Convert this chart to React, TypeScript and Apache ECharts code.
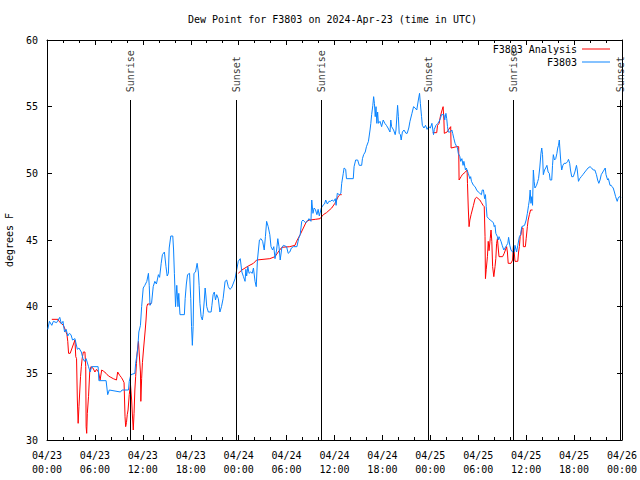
import React, { useEffect, useRef } from "react";
import * as echarts from "echarts";

// hours since 2024-04-23 00:00 UTC
const obsHours = [0.1,0.3,0.6,0.8,1.2,1.6,1.8,2.0,2.2,2.4,2.6,2.8,3.0,3.2,3.5,3.8,4.0,4.3,4.5,4.7,4.9,5.2,5.4,5.6,6.4,6.5,7.4,7.6,7.8,9.2,9.4,10.2,10.3,10.5,11.0,11.1,11.35,11.5,11.7,11.85,12.05,12.25,12.5,12.7,12.8,12.9,13.1,13.3,13.5,13.7,13.95,14.1,14.3,14.45,14.7,14.9,15.05,15.2,15.3,15.5,15.75,15.85,15.95,16.1,16.25,16.4,16.5,16.65,17.2,17.3,17.45,17.6,17.85,18.0,18.1,18.2,18.3,18.4,18.6,18.8,18.95,19.05,19.15,19.3,19.45,19.55,19.7,19.8,19.9,20.0,20.2,20.55,20.65,20.8,20.95,21.1,21.25,21.45,21.65,21.85,22.05,22.3,22.5,22.7,22.9,23.1,23.3,23.55,23.75,23.95,24.2,24.4,24.6,24.8,24.9,25.0,25.15,25.3,25.5,25.7,25.85,26.05,26.2,26.35,26.6,26.8,27.0,27.2,27.35,27.5,27.7,27.9,28.05,28.25,28.4,28.55,28.75,28.9,29.05,29.2,29.4,29.6,30.0,30.2,30.4,30.6,30.85,31.3,31.5,31.7,31.9,32.05,32.2,32.4,32.6,32.8,33.05,33.15,33.3,33.45,33.6,33.8,33.95,34.1,34.35,34.55,34.75,34.9,35.1,35.3,35.5,35.7,35.9,36.1,36.2,36.35,36.6,36.8,36.9,37.1,37.2,37.4,37.5,38.35,38.45,38.65,38.9,39.1,39.4,39.5,39.65,39.85,40.0,40.25,40.45,40.55,40.65,40.8,40.9,41.0,41.1,41.2,41.3,41.4,41.5,41.7,41.9,42.1,42.3,42.5,42.7,42.95,43.05,43.15,43.4,43.6,43.7,43.9,44.0,44.1,44.25,44.35,44.5,44.7,44.95,45.1,45.3,45.45,45.7,45.9,46.1,46.3,46.5,46.65,46.75,46.9,47.0,47.2,47.4,47.6,47.8,48.0,48.2,48.4,48.5,48.7,48.95,49.1,49.25,49.4,49.7,49.8,49.95,50.05,50.15,50.25,50.5,50.7,50.8,50.95,51.1,51.3,51.4,51.5,51.7,51.8,51.95,52.1,52.2,52.4,52.5,52.75,52.95,53.05,53.15,53.4,53.6,53.8,54.0,54.2,54.4,54.5,54.65,54.8,54.9,55.0,55.1,55.3,55.5,55.7,55.9,56.0,56.1,56.2,56.4,56.5,56.6,56.7,56.85,57.0,57.2,57.35,57.55,57.7,57.8,57.95,58.1,58.3,58.5,58.6,58.8,58.95,59.15,59.3,59.45,59.8,60.0,60.15,60.3,60.4,60.5,60.6,60.7,60.8,60.9,61.0,61.1,61.3,61.45,61.55,61.7,61.85,61.95,62.05,62.15,62.3,62.45,62.6,62.75,62.9,63.0,63.2,63.3,63.4,63.55,63.7,63.85,63.95,64.05,64.15,64.25,64.35,64.45,64.6,64.75,65.0,65.2,65.3,65.45,65.55,65.7,65.9,66.1,66.3,66.4,66.55,66.7,66.9,67.1,67.35,67.55,67.75,68.0,68.2,68.4,68.6,68.8,68.95,69.1,69.25,69.4,69.6,69.9,70.0,70.2,70.3,70.5,70.65,70.75,70.9,71.05,71.2,71.4,71.5,71.65,71.9];
const obsValues = [38.3,38.9,38.6,38.9,38.8,39.2,38.7,38.9,38.1,38.3,37.8,38.0,37.9,37.5,37.6,36.8,36.9,36.6,36.1,35.9,36.1,35.5,35.1,35.5,35.5,34.45,34.45,33.4,33.75,33.6,33.75,33.75,34.4,34.9,35.0,35.75,36.75,38.1,38.6,40.0,41.4,41.6,41.9,42.5,41.6,40.1,40.3,41.5,41.9,41.7,42.4,42.2,43.25,43.9,44.1,43.0,42.3,42.5,44.4,45.3,45.3,44.25,42.5,40.0,41.6,40.0,41.0,39.4,39.4,40.6,41.7,42.4,42.5,40.6,38.5,37.1,38.5,42.5,42.6,43.25,42.6,41.6,40.25,39.25,39.0,39.4,40.5,41.4,40.8,40.0,39.6,39.6,40.1,40.9,41.1,40.5,40.9,40.6,39.6,40.0,40.6,41.9,42.0,41.5,41.3,41.4,41.7,42.1,42.75,43.4,43.6,42.6,42.25,41.9,42.8,42.3,43.0,42.5,42.6,42.5,42.9,41.9,41.5,43.5,45.0,45.1,44.9,44.25,45.25,46.4,46.0,45.4,44.5,44.25,44.5,43.6,44.25,45.1,44.5,43.5,44.4,44.6,44.5,44.0,44.1,44.4,44.5,44.5,45.1,45.4,46.4,46.5,46.4,46.3,46.4,46.6,46.4,48.0,47.0,47.4,47.3,46.9,47.3,46.8,47.4,47.6,47.7,48.0,47.7,47.9,47.9,48.0,47.9,48.1,47.6,48.5,48.4,48.5,49.25,50.0,50.4,50.3,49.6,49.6,50.5,51.0,51.0,50.6,50.6,51.1,51.4,51.6,52.0,52.4,53.25,53.75,54.4,55.1,55.75,55.25,54.25,55.0,53.75,54.6,53.75,53.9,53.5,54.0,53.75,53.6,53.4,53.1,54.0,53.5,53.25,52.9,53.25,55.1,54.25,53.0,52.9,52.5,53.1,53.25,53.0,53.0,53.4,53.9,54.5,55.0,54.9,54.75,55.5,56.0,55.25,54.25,53.6,53.4,53.6,53.3,53.5,53.4,53.75,52.9,53.3,53.6,53.75,53.9,54.1,54.4,54.4,54.0,54.5,54.1,53.5,53.1,53.1,53.25,53.0,52.6,52.25,52.0,51.9,51.5,51.25,50.9,51.1,50.6,50.9,50.25,50.4,50.0,49.6,49.75,49.4,49.1,49.0,48.75,48.6,48.5,48.4,48.75,48.75,48.1,48.4,47.5,46.75,46.6,46.5,46.4,46.3,46.0,46.1,45.5,45.25,45.0,45.25,45.1,44.9,44.6,44.25,44.4,44.6,44.75,45.2,44.6,44.25,44.1,44.1,44.6,44.1,44.6,45.25,45.4,46.0,46.1,46.5,47.0,47.6,48.0,48.75,47.75,48.25,47.6,50.25,49.4,48.9,49.1,49.4,49.6,50.4,51.5,51.9,51.4,49.9,50.25,50.4,50.6,50.1,50.0,49.5,49.5,50.6,51.4,51.0,51.1,51.5,51.9,52.1,52.5,51.6,50.75,50.25,50.6,50.75,50.75,50.9,51.05,50.75,50.25,49.75,49.75,50.1,50.6,50.25,49.4,49.6,49.75,49.9,50.1,50.25,50.4,50.5,50.4,50.25,50.25,49.9,49.5,49.25,49.5,49.9,50.1,50.4,49.9,49.5,49.6,49.1,49.1,49.0,48.9,48.6,48.25,47.9,48.1,48.25,48.2];

// analysis series (null = no data)
const anaHours = [0.6,1.4,1.5,2.05,2.3,2.5,2.6,2.7,2.9,3.5,3.6,3.7,3.8,3.9,4.0,4.2,4.3,4.4,4.55,4.75,4.85,4.9,4.97,5.05,5.2,5.35,5.5,5.75,6.0,6.2,6.45,6.65,6.85,7.1,7.4,7.7,8.0,8.3,8.7,8.85,9.1,9.3,9.5,9.65,9.77,9.85,9.95,10.05,10.15,10.3,10.45,10.6,10.7,10.8,10.9,11.0,11.1,11.2,11.3,11.45,11.6,11.7,11.75,11.85,11.95,12.1,12.3,12.4,12.5,12.6,12.95,13.05,18.0,23.95,24.4,24.8,25.2,25.85,26.25,27.9,28.55,28.95,29.4,30.4,31.05,31.25,31.7,32.1,32.5,32.9,33.6,34.2,34.6,35.0,35.65,36.05,36.5,36.7,36.9,42.0,48.3,48.8,48.9,49.1,49.25,49.4,49.6,49.7,49.75,50.1,50.25,50.55,50.6,51.3,51.55,51.6,51.85,52.0,52.4,52.6,52.65,52.75,52.85,52.95,53.1,53.4,53.6,53.8,54.2,54.4,54.6,54.75,54.85,54.9,55.0,55.15,55.25,55.35,55.5,55.6,55.7,55.8,55.95,56.1,56.2,56.3,56.4,56.5,56.6,57.05,57.25,57.4,57.55,57.65,57.75,58.1,58.3,58.4,58.5,58.6,58.95,59.05,59.15,59.25,59.35,59.45,59.6,59.65,59.9,60.0,60.15,60.25,60.4,60.55,60.8];
const anaValues = [39.05,39.05,38.9,38.6,38.25,37.9,37.4,36.5,36.5,37.5,36.25,36.1,33.0,31.25,32.5,34.75,35.5,36.1,36.6,36.6,35.5,31.0,30.5,32.0,33.25,35.1,35.5,35.4,35.1,35.3,35.1,34.5,35.25,35.15,35.0,34.8,34.7,34.6,34.5,35.1,34.85,34.7,34.5,34.3,31.75,31.0,31.3,31.9,32.25,33.4,34.2,33.0,31.8,30.75,32.0,33.75,34.75,35.75,36.6,37.4,36.0,35.1,32.9,34.6,35.8,36.9,38.25,39.0,40.0,40.2,40.2,40.3,null,42.5,42.75,42.9,43.05,43.25,43.5,43.6,43.75,44.1,44.45,44.5,44.6,44.9,45.4,45.9,46.4,46.5,46.55,46.6,46.9,47.05,47.4,47.75,48.3,48.4,48.4,null,53.05,53.05,53.6,53.75,54.25,54.6,55.0,54.0,53.0,53.1,53.25,53.5,51.9,52.0,52.0,49.5,49.75,49.9,50.1,50.25,49.25,47.4,46.0,46.5,46.9,47.6,48.1,48.2,48.0,47.8,47.6,47.5,45.25,42.1,42.8,43.75,44.9,44.2,45.1,45.75,44.9,43.0,42.25,43.0,43.6,44.75,45.1,44.4,43.75,43.75,44.0,44.25,44.5,44.1,43.25,43.25,43.5,44.5,44.1,43.4,43.4,44.1,44.5,45.25,45.4,45.9,45.9,44.5,44.5,45.1,46.0,46.5,46.9,47.25,47.25];

const sunHours = [10.43, 23.7, 34.35, 47.73, 58.37, 71.8];
const sunNames = ["Sunrise", "Sunset", "Sunrise", "Sunset", "Sunrise", "Sunset"];
const sunLineTop = 55.5;
const sunLabelBase = 56.0;

const tickDates = ["04/23","04/23","04/23","04/23","04/24","04/24","04/24","04/24","04/25","04/25","04/25","04/25","04/26"];
const tickTimes = ["00:00","06:00","12:00","18:00","00:00","06:00","12:00","18:00","00:00","06:00","12:00","18:00","00:00"];

const FONT = "DejaVu Sans Mono";

export default function App() {
  const ref = useRef<HTMLDivElement>(null);
  useEffect(() => {
    if (!ref.current) return;
    const chart = echarts.init(ref.current, undefined, { renderer: "svg" });
    const obs = obsHours.map((h, i) => [h, obsValues[i]]);
    const ana = anaHours.map((h, i) => [h, anaValues[i]]);
    const baseX = {
      type: "value" as const,
      min: 0,
      max: 72,
      interval: 6,
      splitLine: { show: false },
      axisLine: { show: true, onZero: false, lineStyle: { color: "#000", width: 1 } },
      axisTick: { show: true, inside: true, length: 5, lineStyle: { color: "#000" } },
      minorTick: { show: true, splitNumber: 3, length: 3, lineStyle: { color: "#000" } },
    };
    const baseY = {
      type: "value" as const,
      min: 30,
      max: 60,
      interval: 5,
      splitLine: { show: false },
      axisLine: { show: true, onZero: false, lineStyle: { color: "#000", width: 1 } },
      axisTick: { show: true, inside: true, length: 5, lineStyle: { color: "#000" } },
    };
    chart.setOption({
      animation: false,
      title: {
        text: "Dew Point for F3803 on 2024-Apr-23 (time in UTC)",
        left: 183,
        top: 9,
        textStyle: { fontFamily: FONT, fontSize: 10, fontWeight: "normal", color: "#000" },
      },
      legend: {
        orient: "vertical",
        right: 30,
        top: 43,
        padding: 0,
        align: "right",
        itemWidth: 28,
        itemHeight: 1,
        itemGap: 1,
        icon: "rect",
        textStyle: { fontFamily: FONT, fontSize: 10, color: "#000", lineHeight: 12 },
        data: ["F3803 Analysis", "F3803"],
      },
      grid: { left: 47, right: 18, top: 40, bottom: 40, outerBoundsMode: "none" },
      xAxis: [
        {
          ...baseX,
          position: "bottom",
          axisLabel: {
            fontFamily: FONT,
            fontSize: 10,
            color: "#000",
            margin: 8,
            lineHeight: 14,
            formatter: (v: number) => {
              const i = Math.round(v / 6);
              return tickDates[i] + "\n" + tickTimes[i];
            },
          },
        },
        { ...baseX, position: "top", axisLabel: { show: false } },
      ],
      yAxis: [
        {
          ...baseY,
          position: "left",
          name: "degrees F",
          nameLocation: "middle",
          nameGap: 33,
          nameRotate: 90,
          nameTextStyle: { fontFamily: FONT, fontSize: 10, color: "#000" },
          axisLabel: { fontFamily: FONT, fontSize: 10, color: "#000", margin: 9 },
        },
        { ...baseY, position: "right", axisLabel: { show: false } },
      ],
      series: [
        {
          name: "F3803 Analysis",
          type: "line",
          data: ana,
          showSymbol: false,
          symbol: "none",
          connectNulls: false,
          lineStyle: { color: "#ff0000", width: 1 },
          itemStyle: { color: "#ff0000" },
          z: 2,
        },
        {
          name: "F3803",
          type: "line",
          data: obs,
          showSymbol: false,
          symbol: "none",
          lineStyle: { color: "#0a84ff", width: 1 },
          itemStyle: { color: "#0a84ff" },
          z: 3,
          markLine: {
            silent: true,
            symbol: "none",
            label: { show: false },
            lineStyle: { color: "#000", width: 1, type: "solid" },
            data: sunHours.map((h) => [
              { coord: [h, sunLineTop] },
              { coord: [h, 30] },
            ]),
          },
        },
        {
          type: "scatter",
          data: sunHours.map((h, i) => ({ value: [h, sunLabelBase], name: sunNames[i] })),
          symbolSize: 0,
          silent: true,
          z: 4,
          label: {
            show: true,
            position: "inside",
            rotate: 90,
            align: "left",
            verticalAlign: "middle",
            offset: [1, 0],
            formatter: (p: any) => p.name,
            fontFamily: FONT,
            fontSize: 10,
            color: "#000",
          },
        },
      ],
    });
    return () => chart.dispose();
  }, []);
  return (
    <div
      ref={ref}
      style={{ position: "fixed", left: 0, top: 0, width: 640, height: 480, background: "#fff" }}
    />
  );
}
